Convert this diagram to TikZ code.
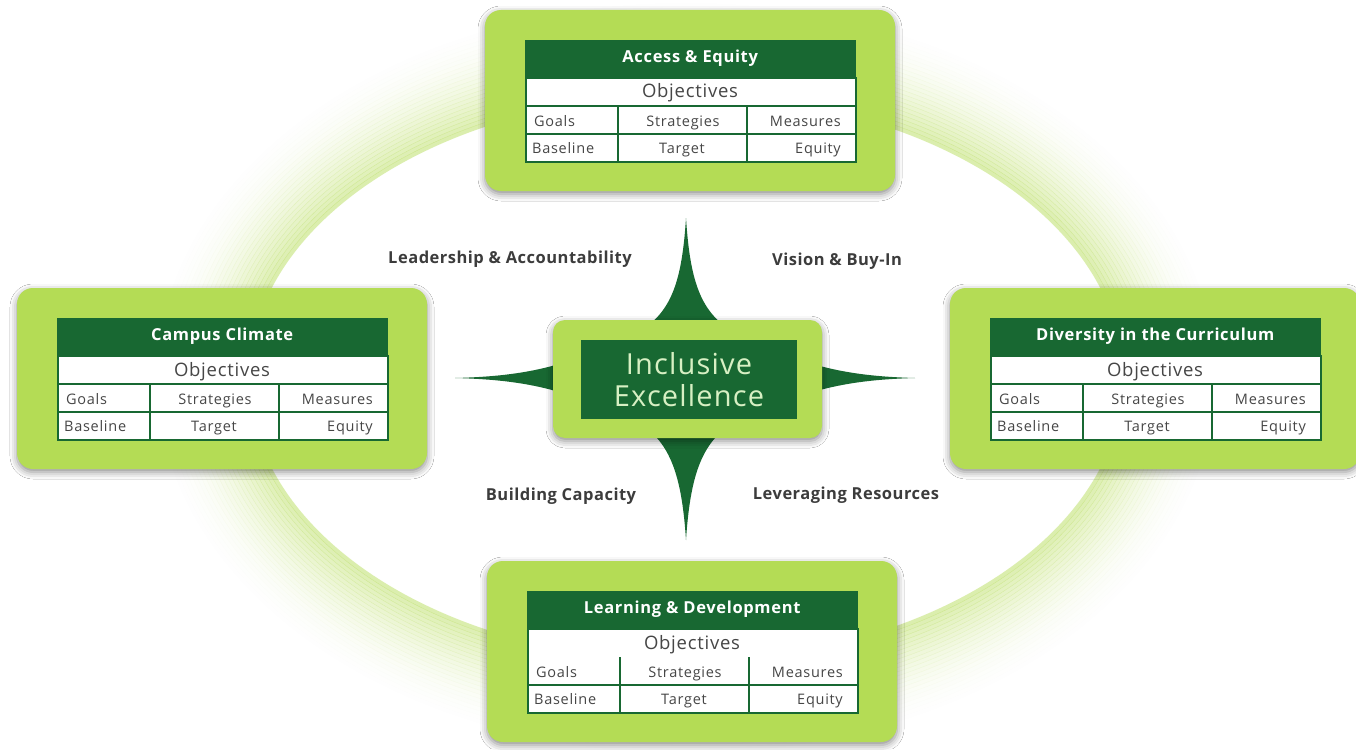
\documentclass[tikz,border=0pt]{standalone}
\usepackage{fontspec}
\setmainfont{Open Sans}
\usetikzlibrary{shadows.blur}
\definecolor{lgreen}{RGB}{180,220,85}
\definecolor{dgreen}{RGB}{24,104,50}
\definecolor{ringgreen}{RGB}{185,222,95}
\definecolor{ctext}{RGB}{215,240,195}
\definecolor{gtext}{RGB}{60,60,60}
\definecolor{ttext}{RGB}{70,70,70}
\tikzset{
  outerbox/.style={fill=lgreen, rounded corners=16pt, draw=none,
    blur shadow={shadow xshift=0pt, shadow yshift=-3pt, shadow blur radius=7pt, shadow opacity=45}},
  hdrbox/.style={fill=dgreen, draw=dgreen, text=white, inner sep=0pt,
    font=\fontsize{16.5}{18}\selectfont\bfseries\addfontfeature{LetterSpace=4}},
  objtext/.style={text=ttext, inner sep=0pt, font=\fontsize{18.5}{20}\selectfont\addfontfeature{LetterSpace=4}},
  celltext/.style={text=ttext, inner sep=0pt, font=\fontsize{14.5}{16}\selectfont\addfontfeature{LetterSpace=5}},
  tline/.style={draw=dgreen, line width=1.6pt},
  lbltext/.style={text=gtext, inner sep=0pt, font=\fontsize{16.5}{18}\selectfont\bfseries\addfontfeature{LetterSpace=3}},
}
\newcommand{\objbox}[5]{%
  \begin{scope}[shift={(#2,#3)}]
    \node[outerbox, minimum width=410pt, minimum height=181pt] (#1) at (165,60.5) {};
    \node[hdrbox, minimum width=330pt, minimum height=37pt, anchor=north west] (#1-h) at (0,0) {#4};
    \node[fill=white, draw=dgreen, line width=1.6pt, minimum width=330pt, minimum height=84pt, anchor=north west, inner sep=0pt] (#1-t) at (0,37) {};
    \ifnum#5=1 \draw[tline] (0,66) -- (330,66);\fi
    \draw[tline] (0,94) -- (330,94);
    \draw[tline] (93,66) -- (93,121);
    \draw[tline] (222,66) -- (222,121);
    \node[objtext, anchor=base] (#1-o) at (165,58) {Objectives};
    \node[celltext, anchor=base west] (#1-g) at (9,86) {Goals};
    \node[celltext, anchor=base] (#1-s) at (158,86) {Strategies};
    \node[celltext, anchor=base east] (#1-m) at (316,86) {Measures};
    \node[celltext, anchor=base west] (#1-b) at (7,113) {Baseline};
    \node[celltext, anchor=base] (#1-tg) at (157,113) {Target};
    \node[celltext, anchor=base east] (#1-e) at (316,113) {Equity};
  \end{scope}}
\begin{document}
\begin{tikzpicture}[x=1pt, y=-1pt]
\useasboundingbox (0,0) rectangle (1356,749);
\fill[white] (0,0) rectangle (1356,749);
% background ring
\foreach \i [evaluate=\i as \r using 439+4*\i, evaluate=\i as \s using 285+4*\i, evaluate=\i as \o using 0.5*(1-\i/24)^2] in {0,...,23}
  \draw[ringgreen, line width=4.3pt, opacity=\o] (686,378) ellipse [x radius=\r pt, y radius=\s pt];
% star
\fill[dgreen] (686,218) .. controls (690,280) and (700,310) .. (730,330) -- (820,366)
  .. controls (850,374) and (880,377) .. (915,378)
  .. controls (880,379) and (850,382) .. (820,390) -- (730,425)
  .. controls (700,445) and (690,480) .. (686,540)
  .. controls (682,480) and (672,445) .. (642,425) -- (552,390)
  .. controls (522,382) and (492,379) .. (455,378)
  .. controls (492,377) and (522,374) .. (552,366) -- (642,330)
  .. controls (672,310) and (682,280) .. (686,218) -- cycle;
% center
\node[outerbox, rounded corners=12pt, minimum width=269pt, minimum height=118pt] (ctr) at (687.5,379) {};
\node[fill=dgreen, minimum width=216pt, minimum height=79pt, inner sep=0pt, text=ctext,
  align=center, font=\fontsize{29}{32}\selectfont\addfontfeature{LetterSpace=4}] (ie) at (689,379.5) {Inclusive\\Excellence};
% boxes
\objbox{ae}{525}{40}{Access \& Equity}{1}
\objbox{cc}{57}{318}{Campus Climate}{1}
\objbox{dc}{990}{318}{Diversity in the Curriculum}{1}
\objbox{ld}{527}{591}{Learning \& Development}{0}
% labels
\node[lbltext] (l1) at (510,259) {Leadership \& Accountability};
\node[lbltext] (l2) at (837,261) {Vision \& Buy-In};
\node[lbltext] (l3) at (561,496) {Building Capacity};
\node[lbltext] (l4) at (846,495) {Leveraging Resources};
\end{tikzpicture}
\end{document}
